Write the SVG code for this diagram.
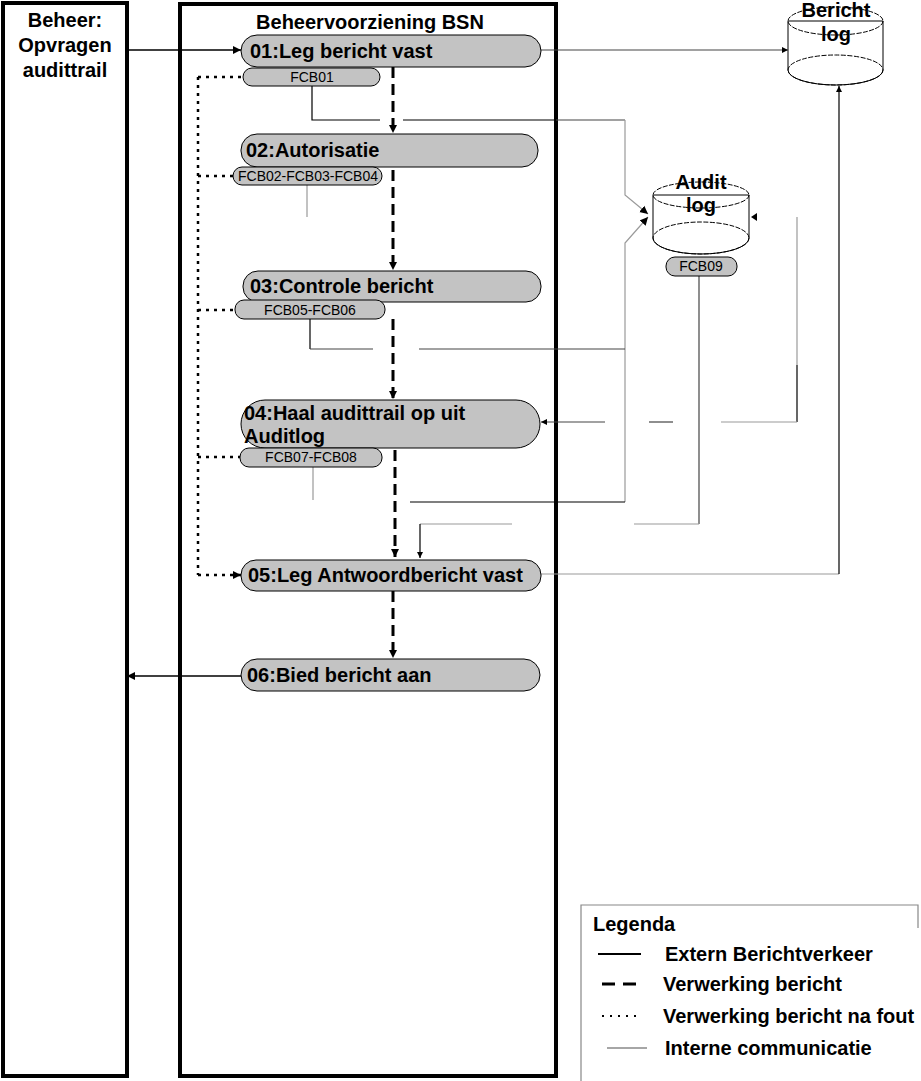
<svg xmlns="http://www.w3.org/2000/svg" width="921" height="1081" viewBox="0 0 921 1081">
<defs>
<marker id="ah" viewBox="0 0 10 10" refX="9" refY="5" markerWidth="9" markerHeight="9" markerUnits="userSpaceOnUse" orient="auto"><path d="M0,0.5 L9,5 L0,9.5 z" fill="#000"/></marker>
<marker id="ahs" viewBox="0 0 10 10" refX="9" refY="5" markerWidth="7" markerHeight="7" markerUnits="userSpaceOnUse" orient="auto"><path d="M0,0.5 L9,5 L0,9.5 z" fill="#000"/></marker>
</defs>
<style>
.box{fill:#fff;stroke:#000;stroke-width:4}
.node{fill:#c3c3c3;stroke:#000;stroke-width:1}
.lbl{font-family:"Liberation Sans",Arial,sans-serif;font-weight:bold;font-size:20px;fill:#000}
.sm{font-family:"Liberation Sans",Arial,sans-serif;font-size:14px;fill:#000}
.ext{stroke:#000;stroke-width:1.6;fill:none}
.flow{stroke:#000;stroke-width:3;stroke-dasharray:11 6;fill:none}
.err{stroke:#000;stroke-width:2.5;stroke-dasharray:3 5;fill:none}
.int{stroke:#9a9a9a;stroke-width:1.2;fill:none}
.dk{stroke:#444;stroke-width:1.2;fill:none}
.blk{stroke:#000;stroke-width:1.2;fill:none}
.cyl{fill:#fff;stroke:#000;stroke-width:1}
.cyle{fill:none;stroke:#000;stroke-width:1;stroke-dasharray:5 1.5}
</style>
<rect width="921" height="1081" fill="#fff"/>

<g id="beheer">
<rect class="box" x="3" y="3" width="124" height="1073"/>
<text class="lbl" text-anchor="middle" x="65" y="27">Beheer:</text>
<text class="lbl" text-anchor="middle" x="65" y="52">Opvragen</text>
<text class="lbl" text-anchor="middle" x="65" y="77">audittrail</text>
</g>

<g id="bsn">
<rect class="box" x="180" y="4" width="376" height="1072"/>
<text class="lbl" text-anchor="middle" x="370" y="29">Beheervoorziening BSN</text>
</g>

<g id="berichtlog">
<path class="cyl" d="M788,21 V70 A47.5,15 0 0 0 883,70 V21 Z"/>
<ellipse class="cyle" cx="835.5" cy="21" rx="47.5" ry="14"/>
<ellipse class="cyle" cx="835.5" cy="70" rx="47.5" ry="15"/>
<text class="lbl" text-anchor="middle" x="836" y="17">Bericht</text>
<text class="lbl" text-anchor="middle" x="836" y="41">log</text>
</g>

<g id="auditlog">
<path class="cyl" d="M653,195 V238 A48,16 0 0 0 749,238 V195 Z"/>
<ellipse class="cyle" cx="701" cy="195" rx="48" ry="13"/>
<ellipse class="cyle" cx="701" cy="238" rx="48" ry="16"/>
<text class="lbl" text-anchor="middle" x="701" y="189">Audit</text>
<text class="lbl" text-anchor="middle" x="701" y="212">log</text>
</g>

<g id="connectors">
<line class="ext" x1="127" y1="50" x2="241" y2="50" marker-end="url(#ah)"/>
<line class="ext" x1="241" y1="676" x2="127" y2="676" marker-end="url(#ah)"/>
<line class="dk" x1="541" y1="50" x2="788" y2="50" marker-end="url(#ahs)"/>

<line class="flow" x1="393" y1="67" x2="393" y2="133" marker-end="url(#ah)"/>
<line class="flow" x1="393" y1="170" x2="393" y2="270" marker-end="url(#ah)"/>
<line class="flow" x1="393" y1="319" x2="393" y2="399" marker-end="url(#ah)"/>
<line class="flow" x1="395" y1="450" x2="395" y2="557" marker-end="url(#ah)"/>
<line class="flow" x1="393" y1="591" x2="393" y2="658" marker-end="url(#ah)"/>

<path class="err" d="M198,77 V575 M198,77 H243 M198,176 H233 M198,310 H235 M198,457 H240"/>
<line class="err" x1="198" y1="575" x2="241" y2="575" marker-end="url(#ah)"/>

<path class="blk" d="M312,86 V120 H380 M403,120 H556"/>
<path class="dk" d="M556,120 H625"/>
<path class="int" d="M625,120 V195 L648,214" marker-end="url(#ah)"/>
<path class="int" d="M625,502 V243 L648,217" marker-end="url(#ah)"/>
<path class="blk" d="M310,319 V349"/>
<path class="dk" d="M310,349 H373 M419,349 H625"/>
<path class="blk" d="M410,502 H625"/>
<path class="int" d="M307,185 V217 M313,467 V500"/>
<path class="int" d="M797,217 V365"/>
<path class="blk" d="M797,365 V422"/>
<path class="int" d="M797,422 H721"/>
<path class="dk" d="M673,422 H649"/>
<line class="dk" x1="605" y1="422" x2="541" y2="422" marker-end="url(#ahs)"/>
<polygon points="751,217 757,213 757,221" fill="#000"/>
<path class="dk" d="M699,276 V524"/>
<path class="int" d="M699,524 H634 M512,524 H420"/>
<line class="blk" x1="420" y1="524" x2="420" y2="558" marker-end="url(#ahs)"/>
<path class="int" d="M541,574 H839"/>
<line class="blk" x1="839" y1="574" x2="839" y2="86" marker-end="url(#ahs)"/>
</g>

<g id="n01">
<rect class="node" x="241" y="35" width="300" height="32" rx="16"/>
<text class="lbl" x="250" y="58">01:Leg bericht vast</text>
</g>
<g id="fcb01">
<rect class="node" x="243" y="68" width="137" height="18" rx="9"/>
<text class="sm" text-anchor="middle" x="312" y="82">FCB01</text>
</g>
<g id="n02">
<rect class="node" x="241" y="134" width="297" height="33" rx="16"/>
<text class="lbl" x="246" y="157">02:Autorisatie</text>
</g>
<g id="fcb02">
<rect class="node" x="233" y="167" width="149" height="18" rx="9"/>
<text class="sm" text-anchor="middle" x="308" y="181">FCB02-FCB03-FCB04</text>
</g>
<g id="n03">
<rect class="node" x="243" y="271" width="298" height="31" rx="15"/>
<text class="lbl" x="250" y="293">03:Controle bericht</text>
</g>
<g id="fcb05">
<rect class="node" x="235" y="300" width="150" height="19" rx="9"/>
<text class="sm" text-anchor="middle" x="310" y="315">FCB05-FCB06</text>
</g>
<g id="n04">
<rect class="node" x="241" y="400" width="299" height="48" rx="24"/>
<text class="lbl" x="244" y="420">04:Haal audittrail op uit</text>
<text class="lbl" x="244" y="443">Auditlog</text>
</g>
<g id="fcb07">
<rect class="node" x="240" y="448" width="142" height="19" rx="9"/>
<text class="sm" text-anchor="middle" x="311" y="462">FCB07-FCB08</text>
</g>
<g id="n05">
<rect class="node" x="241" y="560" width="300" height="31" rx="15"/>
<text class="lbl" x="248" y="582">05:Leg Antwoordbericht vast</text>
</g>
<g id="n06">
<rect class="node" x="241" y="659" width="299" height="32" rx="16"/>
<text class="lbl" x="247" y="682">06:Bied bericht aan</text>
</g>
<g id="fcb09">
<rect class="node" x="666" y="257" width="71" height="19" rx="9"/>
<text class="sm" text-anchor="middle" x="701" y="271">FCB09</text>
</g>

<g id="legend">
<path d="M581,1081 V905 H918 V928" fill="none" stroke="#888" stroke-width="1.2"/>
<text class="lbl" x="593" y="931" font-size="18">Legenda</text>
<line x1="598" y1="954" x2="641" y2="954" stroke="#000" stroke-width="2"/>
<text class="lbl" x="665" y="961">Extern Berichtverkeer</text>
<line x1="602" y1="984" x2="641" y2="984" stroke="#000" stroke-width="3" stroke-dasharray="13 8"/>
<text class="lbl" x="663" y="991">Verwerking bericht</text>
<line x1="602" y1="1016" x2="642" y2="1016" stroke="#000" stroke-width="2" stroke-dasharray="2 6"/>
<text class="lbl" x="663" y="1023">Verwerking bericht na fout</text>
<line x1="607" y1="1048" x2="647" y2="1048" stroke="#888" stroke-width="1.5"/>
<text class="lbl" x="665" y="1055">Interne communicatie</text>
</g>
</svg>
